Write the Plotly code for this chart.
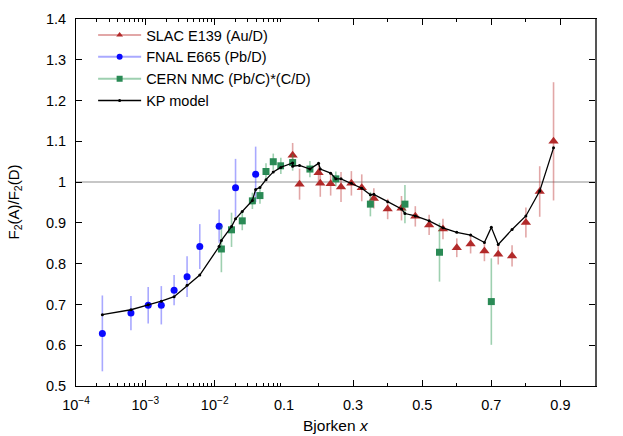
import plotly.graph_objects as go
from plotly.subplots import make_subplots

# SLAC E139 (Au/D)
slac_x = [0.125, 0.145, 0.200, 0.205, 0.235, 0.265, 0.295, 0.325, 0.36, 0.40, 0.44,
          0.48, 0.52, 0.56, 0.60, 0.64, 0.68, 0.72, 0.76, 0.80, 0.84, 0.88]
slac_y = [1.066, 0.995, 1.023, 0.997, 0.996, 0.988, 0.997, 0.986, 0.960, 0.934, 0.936,
          0.916, 0.895, 0.885, 0.839, 0.848, 0.831, 0.823, 0.819, 0.901, 0.977, 1.100]
slac_err = [0.030, 0.038, 0.020, 0.033, 0.029, 0.037, 0.030, 0.033, 0.025, 0.025, 0.030,
            0.025, 0.025, 0.025, 0.023, 0.023, 0.025, 0.025, 0.026, 0.037, 0.062, 0.145]

# FNAL E665 (Pb/D)
fnal_x = [2.4e-4, 6.2e-4, 1.1e-3, 1.7e-3, 2.6e-3, 4.0e-3, 6.1e-3, 0.0116, 0.020, 0.039]
fnal_y = [0.629, 0.679, 0.698, 0.698, 0.735, 0.768, 0.842, 0.892, 0.986, 1.019]
fnal_err = [0.093, 0.042, 0.045, 0.047, 0.037, 0.050, 0.055, 0.041, 0.071, 0.068]

# CERN NMC (Pb/C)*(C/D)
nmc_x = [0.0125, 0.0175, 0.025, 0.035, 0.045, 0.055, 0.07, 0.09, 0.125, 0.175,
         0.25, 0.35, 0.45, 0.55, 0.70]
nmc_y = [0.836, 0.883, 0.905, 0.954, 0.967, 1.026, 1.050, 1.040, 1.048, 1.032,
         1.008, 0.946, 0.946, 0.828, 0.707]
nmc_err = [0.057, 0.042, 0.023, 0.020, 0.020, 0.020, 0.020, 0.020, 0.020, 0.020,
           0.018, 0.030, 0.047, 0.072, 0.106]

# KP model
kp_x = [2.4e-4, 6.2e-4, 1.1e-3, 1.7e-3, 2.6e-3, 4.0e-3, 6.1e-3, 0.0116, 0.0125, 0.0175,
        0.020, 0.025, 0.035, 0.039, 0.045, 0.055, 0.070, 0.090, 0.125, 0.125,
        0.145, 0.175, 0.200, 0.205, 0.235, 0.25, 0.265, 0.295, 0.325, 0.35,
        0.36, 0.40, 0.44, 0.45, 0.48, 0.52, 0.56, 0.60, 0.64, 0.68,
        0.70, 0.72, 0.76, 0.80, 0.84, 0.88]
kp_y = [0.675, 0.687, 0.699, 0.708, 0.719, 0.747, 0.772, 0.842, 0.857, 0.891,
        0.910, 0.928, 0.955, 0.982, 0.987, 1.006, 1.025, 1.036, 1.047, 1.039,
        1.041, 1.032, 1.046, 1.032, 1.022, 1.008, 1.008, 0.997, 0.985, 0.969,
        0.970, 0.952, 0.934, 0.923, 0.917, 0.905, 0.888, 0.877, 0.870, 0.852,
        0.889, 0.847, 0.884, 0.917, 0.978, 1.084]

log_ticks = [1e-4, 1e-3, 1e-2]
log_ticktext = ["10<sup>\u22124</sup>", "10<sup>\u22123</sup>", "10<sup>\u22122</sup>"]
lin_ticks = [0.1, 0.3, 0.5, 0.7, 0.9]

font = "Liberation Sans, Arial, sans-serif"

# log part (1e-4..0.1) and linear part (0.1..1.0) side by side
fig = make_subplots(rows=1, cols=2, shared_yaxes=True, horizontal_spacing=0,
                    column_widths=[208, 311])

series = [
    ("SLAC E139 (Au/D)", slac_x, slac_y, slac_err, "triangle-up", 9, "#b22a2a", "rgba(190,60,60,0.45)"),
    ("FNAL E665 (Pb/D)", fnal_x, fnal_y, fnal_err, "circle", 7, "#0a0aff", "rgba(40,40,255,0.4)"),
    ("CERN NMC (Pb/C)*(C/D)", nmc_x, nmc_y, nmc_err, "square", 7, "#2a8a55", "rgba(40,150,80,0.45)"),
]

for name, xs, ys, errs, sym, size, col, ecol in series:
    for c in (1, 2):
        fig.add_trace(go.Scatter(
            x=xs, y=ys, mode="markers", showlegend=False,
            marker=dict(symbol=sym, size=size, color=col),
            error_y=dict(type="data", array=errs, width=0, thickness=1.6, color=ecol),
        ), row=1, col=c)

for c in (1, 2):
    fig.add_trace(go.Scatter(
        x=kp_x, y=kp_y, mode="lines+markers", showlegend=False,
        line=dict(color="black", width=1.3),
        marker=dict(size=3, color="black"),
    ), row=1, col=c)

# legend entries
for name, xs, ys, errs, sym, size, col, ecol in series:
    fig.add_trace(go.Scatter(
        x=[None], y=[None], mode="lines+markers", name=name,
        line=dict(color=ecol, width=2),
        marker=dict(symbol=sym, size=6, color=col),
    ), row=1, col=2)
fig.add_trace(go.Scatter(
    x=[None], y=[None], mode="lines+markers", name="KP model",
    line=dict(color="black", width=1.3),
    marker=dict(size=3, color="black"),
), row=1, col=2)

fig.add_shape(type="line", xref="paper", x0=0, x1=1, yref="y", y0=1, y1=1,
              line=dict(color="#b4b4b4", width=1.5), layer="below")

common = dict(showline=True, linecolor="black", linewidth=1, mirror="ticks",
              ticks="inside", ticklen=6, tickcolor="black", showgrid=False, zeroline=False,
              ticklabelstandoff=6)

fig.update_xaxes(type="log", range=[-4, -1], tickvals=log_ticks, ticktext=log_ticktext,
                 minor=dict(tickvals=[m * 10 ** e for e in (-4, -3, -2) for m in range(2, 10)],
                            ticks="inside", ticklen=3, tickcolor="black"),
                 row=1, col=1, **common)
fig.update_xaxes(range=[0.1, 1.0], tickvals=lin_ticks,
                 minor=dict(tickvals=[0.2, 0.4, 0.6, 0.8], ticks="inside", ticklen=3, tickcolor="black"),
                 row=1, col=2, **common)
fig.update_yaxes(range=[0.5, 1.4], dtick=0.1, showline=True, linecolor="black", ticks="inside",
                 ticklen=6, tickcolor="black", showgrid=False, zeroline=False,
                 ticklabelstandoff=6, row=1, col=1)
fig.update_yaxes(range=[0.5, 1.4], dtick=0.1, side="right", showline=True, linecolor="#555555",
                 linewidth=1.5, ticks="inside", ticklen=6, tickcolor="black", showgrid=False,
                 zeroline=False, showticklabels=False, row=1, col=2)

fig.add_annotation(text="Bjorken <i>x</i>", xref="paper", yref="paper", x=0.5, y=0,
                   yanchor="top", yshift=-29, showarrow=False, font=dict(size=15.5))
fig.add_annotation(text="F<sub>2</sub>(A)/F<sub>2</sub>(D)", xref="paper", yref="paper",
                   x=0, y=0.5, xanchor="center", yanchor="middle", xshift=-62,
                   textangle=-90, showarrow=False, font=dict(size=15))

fig.update_layout(
    width=623, height=436,
    margin=dict(l=76, r=28, t=19, b=50),
    plot_bgcolor="white", paper_bgcolor="white",
    font=dict(family=font, size=14.5, color="black"),
    legend=dict(x=0.033, y=1.0, xanchor="left", yanchor="top", bgcolor="rgba(0,0,0,0)",
                itemwidth=43, tracegroupgap=0, font=dict(size=14.5)),
)

fig.write_html("out.html", config={"displayModeBar": False},
               post_script="document.body.style.margin='0';")
